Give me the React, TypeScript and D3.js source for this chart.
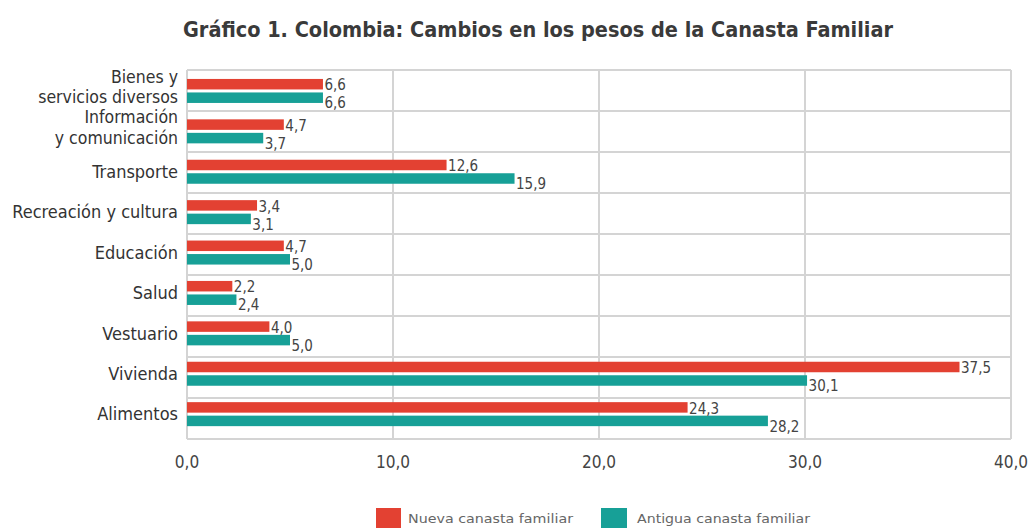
import React from "react";
import * as d3 from "d3";

const categories: string[][] = [
  ["Bienes y", "servicios diversos"],
  ["Información", "y comunicación"],
  ["Transporte"],
  ["Recreación y cultura"],
  ["Educación"],
  ["Salud"],
  ["Vestuario"],
  ["Vivienda"],
  ["Alimentos"],
];
const nueva: number[] = [6.6, 4.7, 12.6, 3.4, 4.7, 2.2, 4.0, 37.5, 24.3];
const antigua: number[] = [6.6, 3.7, 15.9, 3.1, 5.0, 2.4, 5.0, 30.1, 28.2];
const xTicks: number[] = [0, 10, 20, 30, 40];
const seriesNames = ["Nueva canasta familiar", "Antigua canasta familiar"];
const colors = ["#E34132", "#17A097"];

const FONT = "'DejaVu Sans Condensed', 'DejaVu Sans', sans-serif";

function T(props: {
  x: number; y: number; size: number; sx?: number; anchor?: string; fill?: string;
  weight?: string; children: React.ReactNode; textLength?: number;
}) {
  const { x, y, size, sx = 1, anchor = "start", fill = "#333", weight = "normal", children, textLength } = props;
  return (
    <text
      transform={`translate(${x},${y}) scale(${sx},1)`}
      textAnchor={anchor}
      fontFamily={FONT}
      fontSize={size}
      fill={fill}
      fontWeight={weight}
      textLength={textLength}
      lengthAdjust={textLength ? "spacingAndGlyphs" : undefined}
    >
      {children}
    </text>
  );
}

export default function App() {
  const W = 1029, H = 529;
  const left = 187, right = 1011, top = 70, bottom = 439;
  const x = d3.scaleLinear().domain([0, 40]).range([left, right]);
  const idx = d3.range(categories.length);
  const yGrid = d3.scaleBand<number>().domain(idx).range([top, bottom]);
  const yBar = d3.scaleBand<number>().domain(idx).range([70.5, 70.5 + 40.4 * categories.length]);
  const fmt = (v: number) => v.toFixed(1).replace(".", ",");
  const barH = 10.5;
  return (
    <svg width={W} height={H} style={{ position: "absolute", left: 0, top: 0, background: "#fff" }}>
      <T x={538} y={37} size={21.5} anchor="middle" weight="bold" fill="#3a3a3a" textLength={710}>
        Gráfico 1. Colombia: Cambios en los pesos de la Canasta Familiar
      </T>
      {d3.range(categories.length + 1).map((i) => {
        const yy = i < categories.length ? (yGrid(i) as number) : bottom;
        return <line key={"h" + i} x1={left} x2={right} y1={yy} y2={yy} stroke="#d4d4d4" strokeWidth={2} />;
      })}
      {xTicks.map((t) => (
        <line key={"v" + t} x1={x(t)} x2={x(t)} y1={top} y2={bottom} stroke="#d4d4d4" strokeWidth={2} />
      ))}
      {categories.map((c, i) => {
        const b0 = yBar(i) as number;
        const center = b0 + yBar.bandwidth() / 2;
        const ry = center - 11.75;
        const ty = ry + 13.5;
        return (
          <g key={"c" + i}>
            <rect x={x(0)} y={ry} width={x(nueva[i]) - x(0)} height={barH} fill={colors[0]} />
            <rect x={x(0)} y={ty} width={x(antigua[i]) - x(0)} height={barH} fill={colors[1]} />
            <T x={x(nueva[i]) + 1.5} y={ry + barH + 1} size={15} fill="#444">
              {fmt(nueva[i])}
            </T>
            <T x={x(antigua[i]) + 1.5} y={ty + barH + 5.5} size={15} fill="#444">
              {fmt(antigua[i])}
            </T>
            {c.length === 1 ? (
              <T x={178} y={center + 6.5} size={18} anchor="end" fill="#333">
                {c[0]}
              </T>
            ) : (
              c.map((line, k) => (
                <T key={k} x={178} y={center - 8 + k * 20.5} size={17.5} anchor="end" fill="#333">
                  {line}
                </T>
              ))
            )}
          </g>
        );
      })}
      {xTicks.map((t) => (
        <T key={"t" + t} x={x(t)} y={468} size={18} sx={0.95} anchor="middle" fill="#444">
          {fmt(t)}
        </T>
      ))}
      <rect x={376} y={508} width={25} height={20} fill={colors[0]} />
      <T x={408} y={523} size={13} fill="#666" textLength={165}>{seriesNames[0]}</T>
      <rect x={601} y={508} width={26} height={20} fill={colors[1]} />
      <T x={637} y={523} size={13} fill="#666" textLength={173}>{seriesNames[1]}</T>
    </svg>
  );
}
